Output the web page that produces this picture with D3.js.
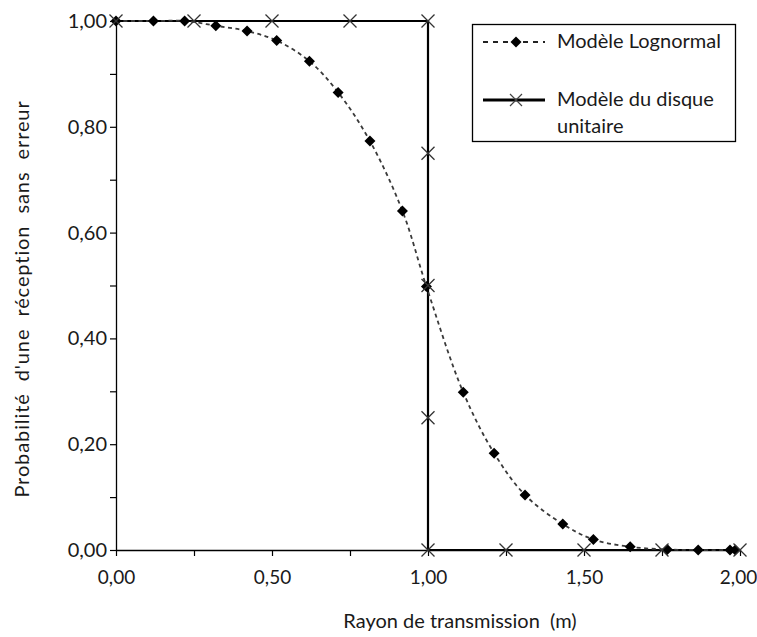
<!DOCTYPE html>
<html>
<head>
<meta charset="utf-8">
<script src="https://cdn.jsdelivr.net/npm/d3@7/dist/d3.min.js"></script>
<style>
html,body{margin:0;padding:0;background:#fff;}
svg{display:block;}
text{font-family:Lato,"Open Sans",sans-serif;fill:#1a1a1a;}
</style>
</head>
<body>
<svg id="chart" width="757" height="637"></svg>
<script>
// ---- data ----
const lognormalX = [0, 0.12, 0.22, 0.32, 0.42, 0.515, 0.62, 0.712, 0.814, 0.918, 0.995, 1.113, 1.212, 1.311, 1.432, 1.53, 1.648, 1.767, 1.866, 1.968, 1.985];
const lognormalY = [1.0, 1.0, 1.0, 0.991, 0.981, 0.963, 0.924, 0.865, 0.773, 0.641, 0.498, 0.298, 0.183, 0.104, 0.049, 0.020, 0.006, 0.001, 0.0, 0.0, 0.0];
const diskX = [0, 0.25, 0.5, 0.75, 1.0, 1.0, 1.0, 1.0, 1.0, 1.25, 1.5, 1.75, 2.0];
const diskY = [1, 1, 1, 1, 1, 0.75, 0.5, 0.25, 0, 0, 0, 0, 0];
const xTickValues = [0, 0.25, 0.5, 0.75, 1.0, 1.25, 1.5, 1.75, 2.0];
const xTickLabels = ["0,00", "", "0,50", "", "1,00", "", "1,50", "", "2,00"];
const yTickValues = [0, 0.1, 0.2, 0.3, 0.4, 0.5, 0.6, 0.7, 0.8, 0.9, 1.0];
const yTickLabels = ["0,00", "", "0,20", "", "0,40", "", "0,60", "", "0,80", "", "1,00"];
const seriesNames = ["Modèle Lognormal", "Modèle du disque", "unitaire"];
const xTitle = "Rayon de transmission\u00a0 (m)";
const yTitle = "Probabilité\u00a0 d'une\u00a0 réception\u00a0 sans\u00a0 erreur";

// ---- layout ----
const svg = d3.select("#chart");
const x = d3.scaleLinear().domain([0, 2]).range([116, 740]);
const y = d3.scaleLinear().domain([0, 1]).range([550, 21]);
const FS = 20;

// axes
const xAxis = d3.axisBottom(x).tickValues(xTickValues)
  .tickFormat((d, i) => xTickLabels[i]).tickSize(6).tickSizeOuter(0);
const gx = svg.append("g").attr("transform", `translate(0,${y(0)})`).call(xAxis);
gx.select(".domain").attr("stroke", "#000").attr("stroke-width", 1.3);
gx.selectAll(".tick line").attr("stroke", "#000").attr("stroke-width", 1.2);
gx.selectAll(".tick text").attr("font-size", 19).attr("font-family", "Lato").attr("fill", "#1a1a1a")
  .attr("dy", "1.3em").attr("dx", d => d === 2 ? -2 : 0);

const yAxis = d3.axisLeft(y).tickValues(yTickValues)
  .tickFormat((d, i) => yTickLabels[i]).tickSize(6).tickSizeOuter(0);
const gy = svg.append("g").attr("transform", `translate(${x(0)},0)`).call(yAxis);
gy.select(".domain").attr("stroke", "#000").attr("stroke-width", 1.3);
gy.selectAll(".tick line").attr("stroke", "#000").attr("stroke-width", 1.2);
gy.selectAll(".tick text").attr("font-size", FS).attr("font-family", "Lato").attr("fill", "#1a1a1a").attr("x", -9);

// titles
svg.append("text").attr("x", 460).attr("y", 628).attr("text-anchor", "middle")
  .attr("font-size", FS).text(xTitle);
svg.append("text").attr("transform", "translate(29,299) rotate(-90)")
  .attr("text-anchor", "middle").attr("font-size", FS).attr("letter-spacing", "0.9px").text(yTitle);

// disk series line
const disk = diskX.map((d, i) => [d, diskY[i]]);
svg.append("path").datum(disk)
  .attr("d", d3.line().x(d => x(d[0])).y(d => y(d[1])))
  .attr("fill", "none").attr("stroke", "#000").attr("stroke-width", 2.2);

// lognormal series
const logn = lognormalX.map((d, i) => [d, lognormalY[i]]);
svg.append("path").datum(logn)
  .attr("d", d3.line().x(d => x(d[0])).y(d => y(d[1])).curve(d3.curveCatmullRom.alpha(0.5)))
  .attr("fill", "none").attr("stroke", "#3a3a3a").attr("stroke-width", 1.8)
  .attr("stroke-dasharray", "4,3.5");

const diamond = r => `M0,${-r}L${r},0L0,${r}L${-r},0Z`;
svg.append("g").selectAll("path").data(logn).join("path")
  .attr("transform", d => `translate(${x(d[0])},${y(d[1])})`)
  .attr("d", diamond(5.5)).attr("fill", "#000");

const cross = r => `M${-r},${-r}L${r},${r}M${-r},${r}L${r},${-r}`;
svg.append("g").selectAll("path").data(disk).join("path")
  .attr("transform", d => `translate(${x(d[0])},${y(d[1])})`)
  .attr("d", cross(6.5)).attr("fill", "none").attr("stroke", "#333").attr("stroke-width", 1.3);

// legend
const lg = svg.append("g");
lg.append("rect").attr("x", 472.5).attr("y", 24.5).attr("width", 263).attr("height", 117)
  .attr("fill", "#fff").attr("stroke", "#000").attr("stroke-width", 1.3);
lg.append("line").attr("x1", 483).attr("x2", 545).attr("y1", 42).attr("y2", 42)
  .attr("stroke", "#222").attr("stroke-width", 1.8).attr("stroke-dasharray", "5,5");
lg.append("path").attr("transform", "translate(516,42)").attr("d", diamond(5.5)).attr("fill", "#000");
lg.append("text").attr("x", 557).attr("y", 48).attr("font-size", FS).text(seriesNames[0]);
lg.append("line").attr("x1", 483).attr("x2", 545).attr("y1", 100).attr("y2", 100)
  .attr("stroke", "#000").attr("stroke-width", 3);
lg.append("path").attr("transform", "translate(516,100)").attr("d", cross(6)).attr("fill", "none")
  .attr("stroke", "#444").attr("stroke-width", 1.2);
lg.append("text").attr("x", 557).attr("y", 106).attr("font-size", FS).text(seriesNames[1]);
lg.append("text").attr("x", 557).attr("y", 133).attr("font-size", FS).text(seriesNames[2]);
</script>
</body>
</html>
